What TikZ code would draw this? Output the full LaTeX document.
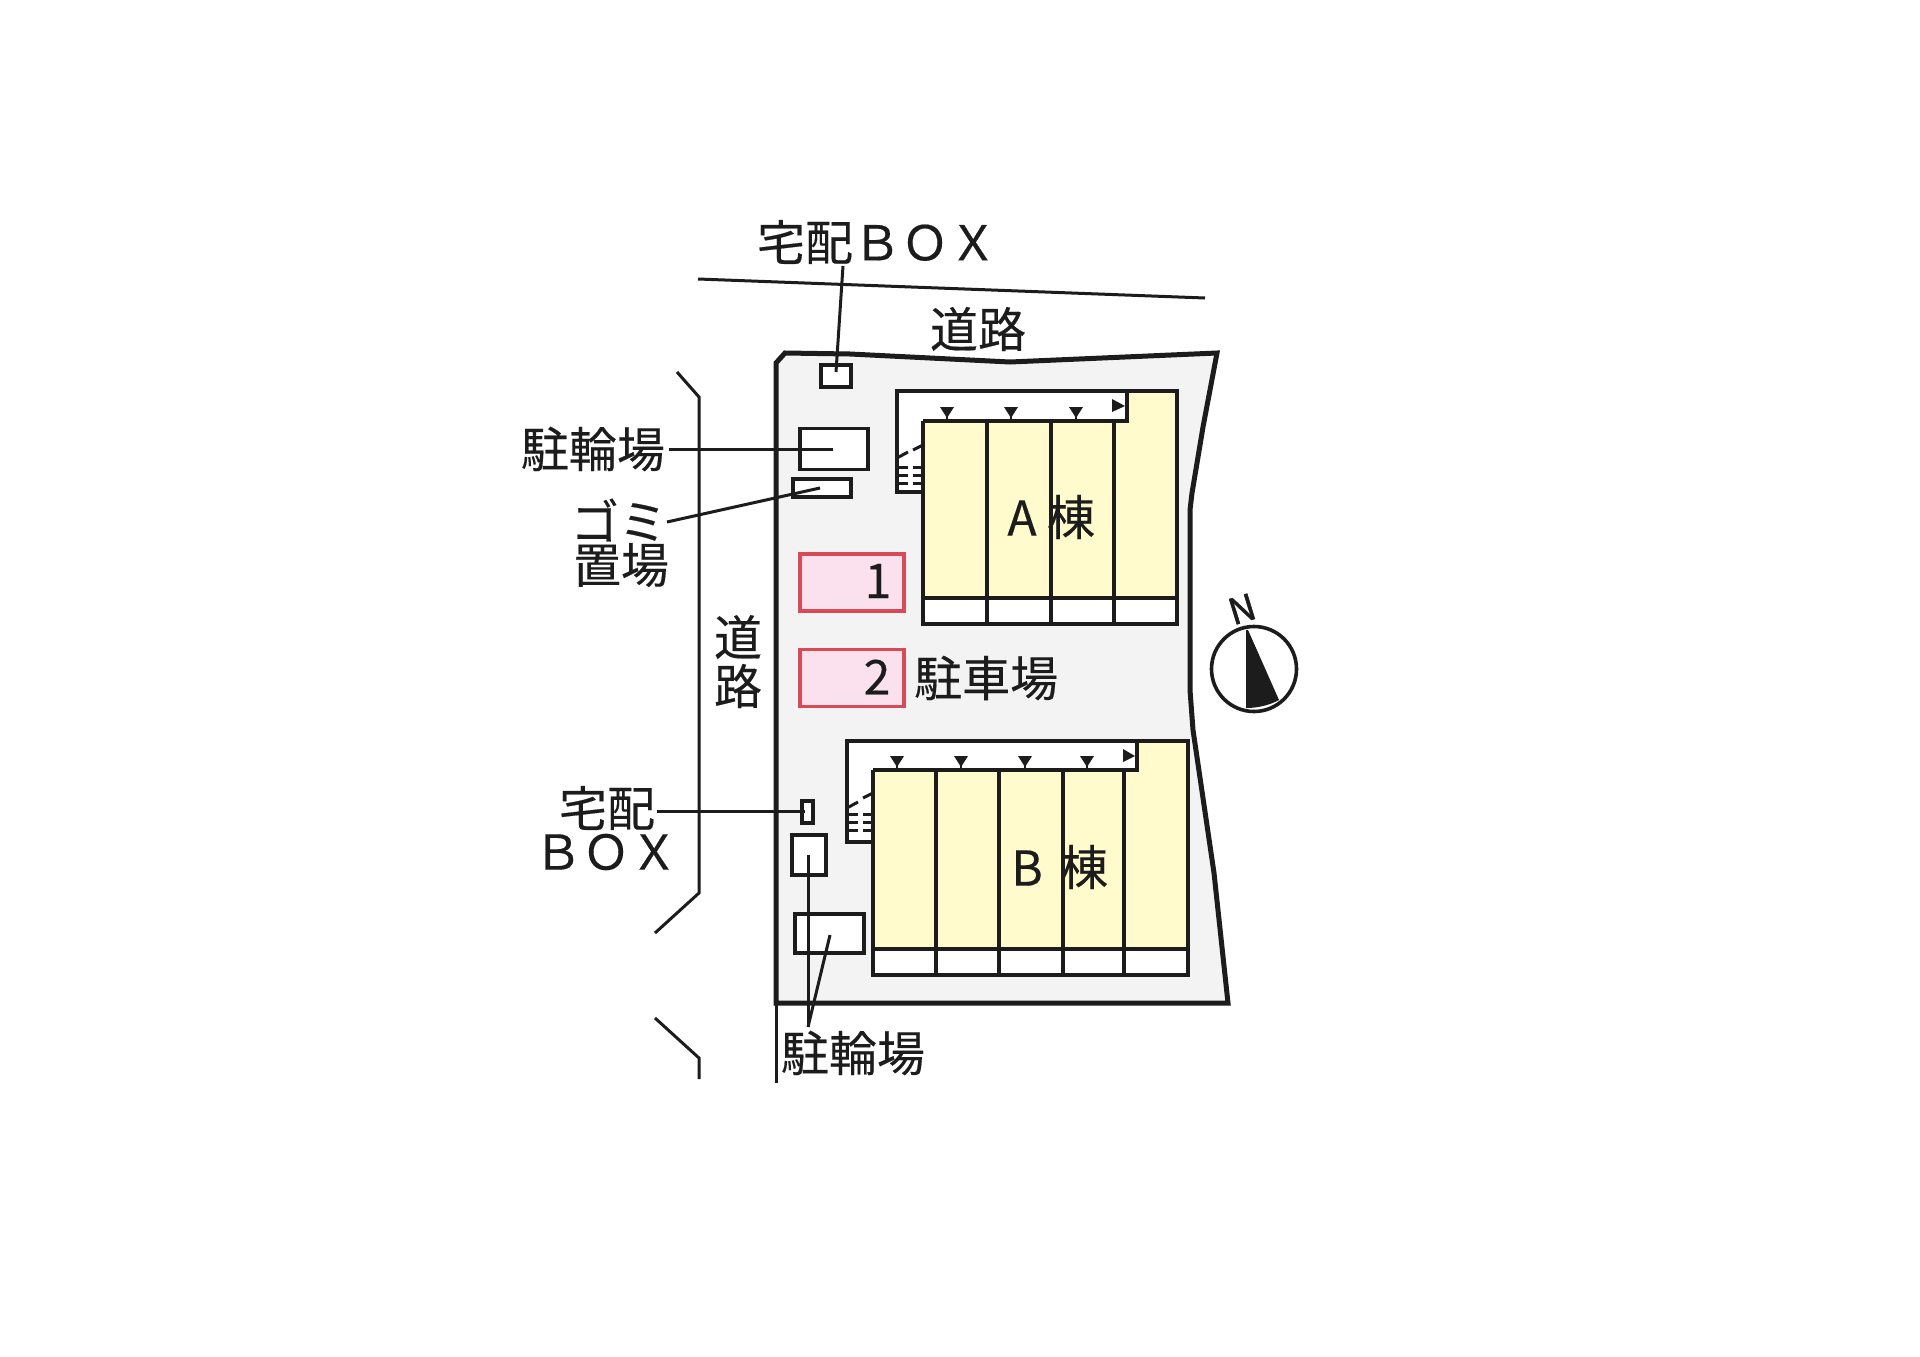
\documentclass[tikz,border=0pt]{standalone}
\usepackage{fontspec}
\setmainfont{Noto Sans CJK JP}[FakeBold=0.35]
\newfontfamily\northfont{Noto Sans CJK JP}[FakeBold=1.6]
\usepackage{tikz}
\definecolor{sitegray}{HTML}{F3F3F3}
\definecolor{wingyellow}{HTML}{FFFBCC}
\definecolor{lotpink}{HTML}{FBE1EE}
\definecolor{lotred}{HTML}{D84A55}
\definecolor{inkblack}{HTML}{1C1C1C}
\tikzstyle{label} = [inner sep=0pt, text=inkblack, font=\fontsize{48}{50}\selectfont]
\tikzstyle{spotbox} = [draw=inkblack, line width=3.2pt, fill=white, inner sep=0pt]
\tikzstyle{lotbox} = [draw=lotred, line width=3.5pt, fill=lotpink, inner sep=0pt, minimum width=104pt, minimum height=57pt]
\tikzstyle{leader} = [draw=inkblack, line width=3pt]
\tikzstyle{wall} = [draw=inkblack, line width=3.6pt]
\tikzstyle{border} = [draw=inkblack, line width=5pt]
\tikzstyle{road} = [draw=inkblack, line width=3pt]
\tikzstyle{tread} = [draw=inkblack, line width=3pt]

\begin{document}
\begin{tikzpicture}[x=1pt,y=-1pt]
	\useasboundingbox (0,0) rectangle (1920,1357);

	\draw [border, fill=sitegray] (776,1003) -- (776,363) -- (785,353) -- (850,354) -- (1010,362) -- (1217,353) -- (1203,427) -- (1192,493) -- (1190,510) -- (1190,690) -- (1193,730) -- (1214,873) -- (1228,1003) -- cycle;

	\draw [road] (698,279) -- (1205,298);
	\draw [road] (677,372) -- (699,397) -- (699,893) -- (655,933);
	\draw [road] (655,1018) -- (699,1058) -- (699,1079);
	\draw [road] (776,1003) -- (776,1083);

	\node [label] (roadtop) at (978,329) {道路};
	\node [label] (roadleftup) at (738,637) {道};
	\node [label] (roadleftdown) at (738,686) {路};

	\node [spotbox, minimum width=30pt, minimum height=22pt] (boxtop) at (836,376) {};
	\node [spotbox, minimum width=68pt, minimum height=41pt] (bikeup) at (834,449) {};
	\node [spotbox, minimum width=58pt, minimum height=18pt] (trash) at (822,488) {};
	\node [spotbox, minimum width=11pt, minimum height=22pt] (boxleft) at (807.5,812) {};
	\node [spotbox, minimum width=34pt, minimum height=40pt] (bikemid) at (809,855) {};
	\node [spotbox, minimum width=69pt, minimum height=39pt] (bikedown) at (829.5,933.5) {};

	\node [lotbox] (lotone) at (852,582.5) {};
	\node [lotbox] (lottwo) at (852,678) {};
	\node [label] (lotonenum) at (878,581) {1};
	\node [label] (lottwonum) at (877,677) {2};
	\node [label, anchor=west] (parking) at (914,678) {駐車場};

	\fill [white] (897,391) rectangle (1127,421);
	\fill [white] (897,421) rectangle (923,492);
	\fill [wingyellow] (923,421) rectangle (1127,598);
	\fill [wingyellow] (1127,391) rectangle (1177,598);
	\fill [white] (923,598) rectangle (1177,624);
	\draw [wall] (897,458) -- (897,391) -- (1127,391) -- (1127,421) -- (923,421);
	\draw [wall] (897,458) -- (897,492) -- (923,492);
	\draw [wall] (1127,391) -- (1177,391) -- (1177,624) -- (923,624) -- (923,421);
	\draw [wall] (923,598) -- (1177,598);
	\foreach \x in {987,1051,1114} {
		\draw [wall] (\x,421) -- (\x,624);
	}
	\foreach \x in {947,1011,1076} {
		\fill [inkblack] (\x-7,407) -- (\x+7,407) -- (\x,418) -- cycle;
		\draw [inkblack, line width=2pt] (\x,416) -- (\x,421);
	}
	\fill [inkblack] (1112,399) -- (1112,412) -- (1125,406) -- cycle;
	\foreach \y in {467,475,483} {
		\draw [tread] (897,\y) -- (908,\y);
		\draw [tread] (913,\y) -- (923,\y);
	}
	\draw [tread] (897,458) -- (908,452);
	\draw [tread] (913,450) -- (923,445);

	\fill [white] (847,741) rectangle (1137,770);
	\fill [white] (847,770) rectangle (873,842);
	\fill [wingyellow] (873,770) rectangle (1137,949);
	\fill [wingyellow] (1137,741) rectangle (1188,949);
	\fill [white] (873,949) rectangle (1188,975);
	\draw [wall] (847,807) -- (847,741) -- (1137,741) -- (1137,770) -- (873,770);
	\draw [wall] (847,807) -- (847,842) -- (873,842);
	\draw [wall] (1137,741) -- (1188,741) -- (1188,975) -- (873,975) -- (873,770);
	\draw [wall] (873,949) -- (1188,949);
	\foreach \x in {936,999,1063,1124} {
		\draw [wall] (\x,770) -- (\x,975);
	}
	\foreach \x in {897,961,1025,1087} {
		\fill [inkblack] (\x-7,756) -- (\x+7,756) -- (\x,767) -- cycle;
		\draw [inkblack, line width=2pt] (\x,765) -- (\x,770);
	}
	\fill [inkblack] (1123,749) -- (1123,762) -- (1135,756) -- cycle;
	\foreach \y in {814,822,830} {
		\draw [tread] (847,\y) -- (858,\y);
		\draw [tread] (863,\y) -- (873,\y);
	}
	\draw [tread] (847,808) -- (858,802);
	\draw [tread] (863,798) -- (873,793);

	\node [label] (wingA) at (1022,518) {A};
	\node [label] (wingAkanji) at (1071,517) {棟};
	\node [label] (wingB) at (1027,868) {B};
	\node [label] (wingBkanji) at (1084,867) {棟};

	\node [label] (boxtoplabel) at (877,242) {宅配ＢＯＸ};
	\node [label] (bikeuplabel) at (593,449) {駐輪場};
	\node [label] (trashlabelup) at (619,520) {ゴミ};
	\node [label] (trashlabeldown) at (621,565) {置場};
	\node [label] (boxleftlabelup) at (607,808) {宅配};
	\node [label] (boxleftlabeldown) at (606,852) {ＢＯＸ};
	\node [label] (bikedownlabel) at (853,1053) {駐輪場};

	\coordinate (boxtopstart) at (843,266);
	\coordinate (boxtopend) at (836,372);
	\coordinate (bikeupstart) at (669,449);
	\coordinate (bikeupend) at (833,449);
	\coordinate (trashstart) at (667,522);
	\coordinate (trashend) at (820,488);
	\coordinate (boxleftstart) at (657,811);
	\coordinate (boxleftend) at (805,811);
	\coordinate (bikemidend) at (808,855);
	\coordinate (bikedownend) at (830,935);
	\coordinate (bikejoin) at (808,1027);

	\draw [leader] (boxtopstart) -- (boxtopend);
	\draw [leader] (bikeupstart) -- (bikeupend);
	\draw [leader] (trashstart) -- (trashend);
	\draw [leader] (boxleftstart) -- (boxleftend);
	\draw [leader] (bikejoin) -- (bikemidend);
	\draw [leader] (bikejoin) -- (bikedownend);

	\node [circle, draw=inkblack, line width=3.6pt, fill=white, minimum size=85pt, inner sep=0pt] (compass) at (1254,669) {};
	\fill [inkblack] (1246,630) -- (1248,630) -- (1279,700) .. controls (1270,705) and (1258,708) .. (1246,708) -- cycle;
	\node [label, rotate=17, font=\fontsize{36}{38}\selectfont\northfont] (north) at (1242,609) {N};
\end{tikzpicture}
\end{document}
